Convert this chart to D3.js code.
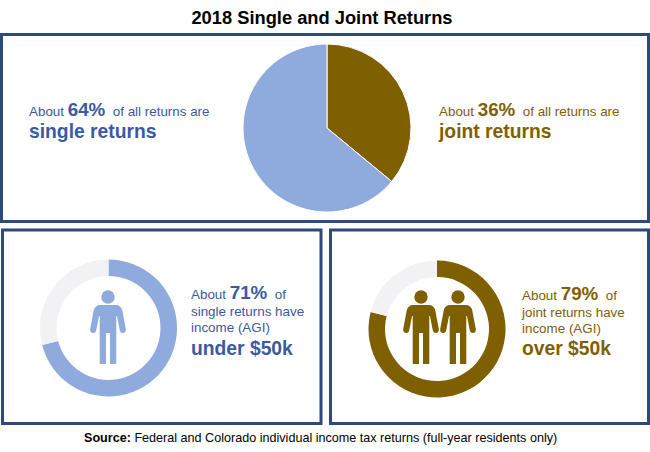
<!DOCTYPE html>
<html>
<head>
<meta charset="utf-8">
<title>2018 Single and Joint Returns</title>
<script src="https://cdn.jsdelivr.net/npm/d3@7"></script>
<style>
    body { margin: 0; background: #fff; }
    svg { display: block; font-family: "Liberation Sans", Arial, sans-serif; }
</style>
</head>
<body>
<script>
// data
var allReturns = [36, 64];        // joint, single
var singleIncome = [71, 29];      // under 50k, rest
var jointIncome = [79, 21];       // over 50k, rest

var titleText = "2018 Single and Joint Returns";
var sourceBold = "Source:";
var sourceText = " Federal and Colorado individual income tax returns (full-year residents only)";

var blue = "#8faadc", brown = "#7f6000", rest = "#f2f2f5",
    blueText = "#3b5aa0", brownText = "#7f6000", frame = "#2c4a7c";

var svg = d3.select("body").append("svg").attr("width", 650).attr("height", 452);

svg.append("text").attr("x", 322).attr("y", 23.5).attr("text-anchor", "middle")
    .attr("font-size", 18.3).attr("font-weight", "bold").attr("fill", "#000").text(titleText);

// panels
[[1.5, 34.5, 647, 187], [2.5, 230, 318.5, 193.5], [330.5, 230, 318, 193.5]].forEach(function (p)
{
    svg.append("rect").attr("x", p[0]).attr("y", p[1]).attr("width", p[2]).attr("height", p[3])
        .attr("fill", "#fff").attr("stroke", frame).attr("stroke-width", 3);
});

var pie = d3.pie().sort(null);

// big pie
var bigG = svg.append("g").attr("transform", "translate(327,128)");
var bigArc = d3.arc().innerRadius(0).outerRadius(84);
bigG.selectAll("path").data(pie(allReturns)).enter().append("path")
    .attr("d", bigArc)
    .attr("fill", function (d, i) { return i == 0 ? brown : blue; })
    .attr("stroke", "#fff").attr("stroke-width", 1);

// donuts
function donut(cx, cy, values, color)
{
    var g = svg.append("g").attr("transform", "translate(" + cx + "," + cy + ")");
    var arc = d3.arc().innerRadius(52).outerRadius(68.5);
    g.selectAll("path").data(pie(values)).enter().append("path")
        .attr("d", arc)
        .attr("fill", function (d, i) { return i == 0 ? color : rest; });
}
donut(108.5, 328, singleIncome, blue);
donut(437, 329, jointIncome, brown);

// person icon, origin at the middle of the neck line
var personBody = "M-8,0 L8,0 C11,0 13.5,2 14.2,5 L17.8,24 C18.6,28.5 12.8,29.5 11.8,25.5 L9,11 L8.3,11 L8.3,59 " +
    "L2,59 L2,28 L-2,28 L-2,59 L-8.3,59 L-8.3,11 L-9,11 L-11.8,25.5 C-12.8,29.5 -18.6,28.5 -17.8,24 L-14.2,5 C-13.5,2 -11,0 -8,0 Z";

function person(cx, top, color)
{
    var g = svg.append("g").attr("transform", "translate(" + cx + "," + top + ")").attr("fill", color);
    g.append("circle").attr("cx", 0).attr("cy", -8).attr("r", 6.7);
    g.append("path").attr("d", personBody);
}
person(108, 305, blue);
person(421, 305, brown);
person(458, 305, brown);

// text blocks
function richLine(x, y, parts, color)
{
    var t = svg.append("text").attr("x", x).attr("y", y).attr("fill", color).attr("xml:space", "preserve");
    parts.forEach(function (p)
    {
        t.append("tspan").attr("font-size", p[1]).attr("font-weight", p[2] ? "bold" : "normal").text(p[0]);
    });
}

richLine(29, 116, [["About ", 13.4], ["64%", 18.8, true], ["  of all returns are", 13.4]], blueText);
richLine(29, 138, [["single returns", 19.3, true]], blueText);

richLine(439, 115.5, [["About ", 13.4], ["36%", 18.8, true], ["  of all returns are", 13.4]], brownText);
richLine(439, 137.5, [["joint returns", 19.3, true]], brownText);

richLine(191, 299, [["About ", 13.4], ["71%", 18.8, true], ["  of", 13.4]], blueText);
richLine(191, 316, [["single returns have", 13.4]], blueText);
richLine(191, 332, [["income (AGI)", 13.4]], blueText);
richLine(191, 354.5, [["under $50k", 19.3, true]], blueText);

richLine(522, 299.5, [["About ", 13.4], ["79%", 18.8, true], ["  of", 13.4]], brownText);
richLine(522, 317, [["joint returns have", 13.4]], brownText);
richLine(522, 333, [["income (AGI)", 13.4]], brownText);
richLine(522, 354.5, [["over $50k", 19.3, true]], brownText);

// source line
var src = svg.append("text").attr("x", 84).attr("y", 442).attr("font-size", 12.6).attr("fill", "#000").attr("xml:space", "preserve");
src.append("tspan").attr("font-weight", "bold").text(sourceBold);
src.append("tspan").text(sourceText);
</script>
</body>
</html>
